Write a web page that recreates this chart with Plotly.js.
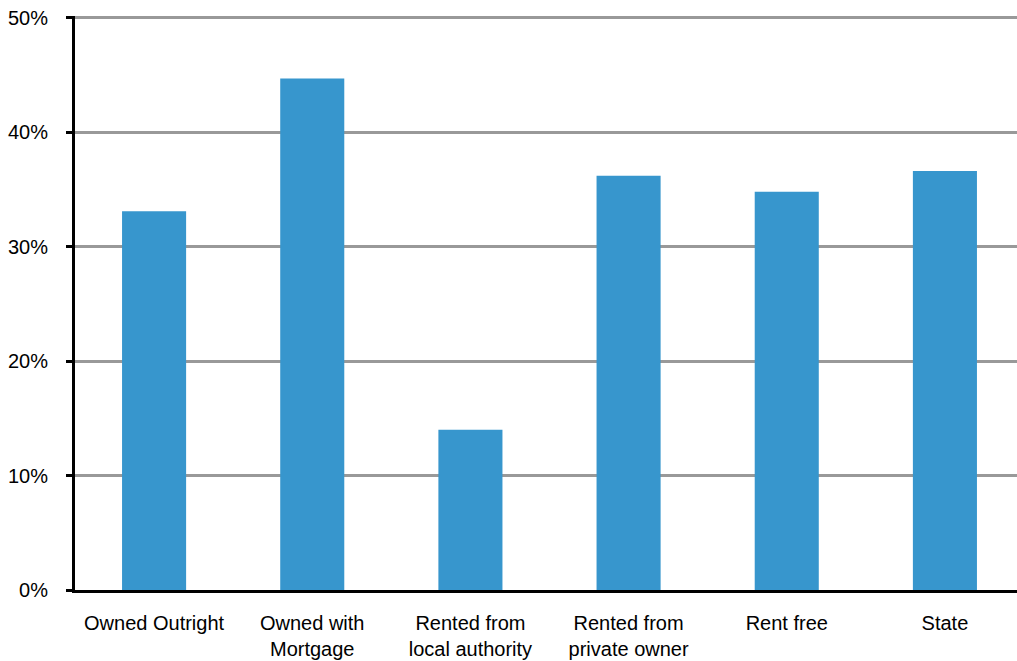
<!DOCTYPE html>
<html>
<head>
<meta charset="utf-8">
<script src="https://cdn.plot.ly/plotly-3.0.1.min.js"></script>
<style>html,body{margin:0;padding:0;background:#fff;overflow:hidden;}#chart{width:1024px;height:661px;}</style>
</head>
<body>
<div id="chart"></div>
<script>
const categories = ["Owned Outright", "Owned with<br>Mortgage", "Rented from<br>local authority", "Rented from<br>private owner", "Rent free", "State"];
const values = [0.331, 0.447, 0.140, 0.362, 0.348, 0.366];
const yTickVals = [0, 0.1, 0.2, 0.3, 0.4, 0.5];
const yTickText = ["0%", "10%", "20%", "30%", "40%", "50%"];

const trace = {
  type: "bar",
  x: categories,
  y: values,
  marker: {color: "#3796cd"},
  hoverinfo: "skip"
};

const layout = {
  width: 1024,
  height: 661,
  margin: {l: 75, r: 0, t: 16, b: 71, pad: 0},
  paper_bgcolor: "#ffffff",
  plot_bgcolor: "#ffffff",
  bargap: 0.595,
  showlegend: false,
  font: {family: "Liberation Sans, Arial, sans-serif", size: 20, color: "#000"},
  xaxis: {
    type: "category",
    showline: true,
    linecolor: "#000",
    linewidth: 3,
    ticks: "",
    showgrid: false,
    zeroline: false,
    tickfont: {size: 20},
    ticklabelstandoff: 13
  },
  yaxis: {
    range: [0, 0.5015],
    tickvals: yTickVals,
    ticktext: yTickText,
    showline: true,
    linecolor: "#000",
    linewidth: 3,
    ticks: "outside",
    ticklen: 6,
    tickwidth: 3,
    tickcolor: "#000",
    showgrid: true,
    gridcolor: "#999999",
    gridwidth: 3,
    zeroline: false,
    tickfont: {size: 20},
    ticklabelstandoff: 14
  }
};

Plotly.newPlot("chart", [trace], layout, {displayModeBar: false, staticPlot: true});
</script>
</body>
</html>
